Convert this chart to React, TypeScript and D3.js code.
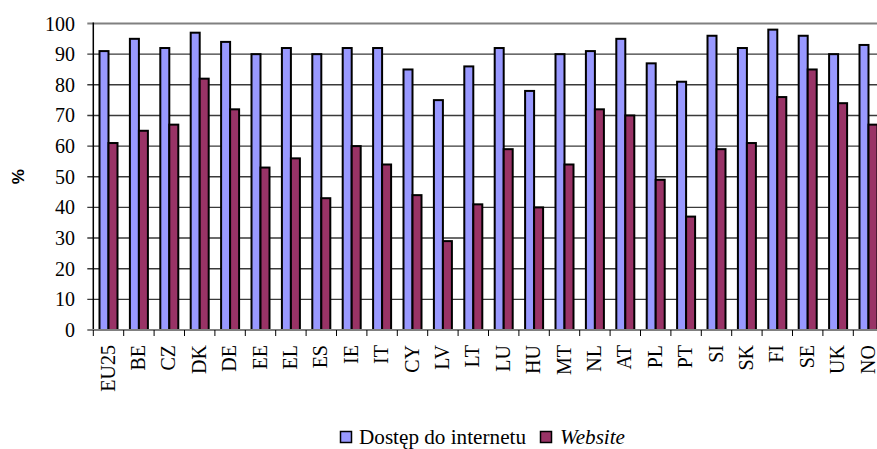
import React from "react";
import * as d3 from "d3";

const categories = ["EU25","BE","CZ","DK","DE","EE","EL","ES","IE","IT","CY","LV","LT","LU","HU","MT","NL","AT","PL","PT","SI","SK","FI","SE","UK","NO"];
const internetAccess = [91,95,92,97,94,90,92,90,92,92,85,75,86,92,78,90,91,95,87,81,96,92,98,96,90,93];
const website = [61,65,67,82,72,53,56,43,60,54,44,29,41,59,40,54,72,70,49,37,59,61,76,85,74,67];
const yTicks = [0,10,20,30,40,50,60,70,80,90,100];
const seriesNames = ["Dostęp do internetu", "Website"];
const seriesColors = ["#9999FF", "#993366"];

const W = 877, H = 449;
const left = 93.3, right = 93.3 + 26 * 30.4;
const top = 23.5, bottom = 330;

export default function App() {
  const x = d3.scaleBand<string>().domain(categories).range([left, right]).paddingInner(0).paddingOuter(0);
  const y = d3.scaleLinear().domain([0, 100]).range([bottom, top]);
  const barW = 9;
  const serif = "Liberation Serif, Times New Roman, serif";
  const series = [internetAccess, website];

  return (
    <svg width={W} height={H} style={{ position: "absolute", left: 0, top: 0, background: "#fff" }}>
      {yTicks.filter(t => t > 0 && t < 100).map(t => (
        <line key={"g" + t} x1={left - 6} x2={W} y1={y(t)} y2={y(t)} stroke="#3a3a3a" strokeWidth={1.4} />
      ))}
      <line x1={left - 6} x2={W} y1={y(100)} y2={y(100)} stroke="#808080" strokeWidth={2} />
      {yTicks.map(t => (
        <text key={"yl" + t} x={75} y={y(t)} dy="0.35em" textAnchor="end" style={{ fontFamily: serif }} fontSize={20} fill="#000">{t}</text>
      ))}
      {categories.map((c, i) => {
        const cx = (x(c) as number) + x.bandwidth() / 2;
        return (
          <g key={c}>
            {series.map((s, k) => (
              <rect key={k} x={cx - barW + k * barW} y={y(s[i])} width={barW} height={y(0) - y(s[i])}
                fill={seriesColors[k]} stroke="#000" strokeWidth={2} />
            ))}
          </g>
        );
      })}
      <line x1={left} x2={left} y1={top - 1} y2={bottom} stroke="#000" strokeWidth={1.5} />
      <line x1={left - 6} x2={W} y1={bottom} y2={bottom} stroke="#808080" strokeWidth={2} />
      {categories.map((c) => (
        <line key={"t" + c} x1={(x(c) as number)} x2={(x(c) as number)} y1={bottom} y2={bottom + 6} stroke="#000" strokeWidth={1} />
      ))}
      {categories.map(c => {
        const cx = (x(c) as number) + x.bandwidth() / 2;
        return (
          <text key={"xl" + c} transform={`translate(${cx - 1},345) rotate(-90)`} dy="0.35em" textAnchor="end"
            style={{ fontFamily: serif }} fontSize={20} fill="#000">{c}</text>
        );
      })}
      <text transform={`translate(18,${(top + bottom) / 2}) rotate(-90)`} dy="0.35em" textAnchor="middle"
        style={{ fontFamily: "Liberation Sans, Arial, sans-serif" }} fontWeight="bold" fontSize={17} fill="#000">%</text>
      <rect x={340.5} y={431.5} width={11} height={11} fill={seriesColors[0]} stroke="#000" strokeWidth={1.5} />
      <text x={359} y={444} style={{ fontFamily: serif }} fontSize={20} fill="#000" textLength={167} lengthAdjust="spacingAndGlyphs">{seriesNames[0]}</text>
      <rect x={540.5} y={431.5} width={11} height={11} fill={seriesColors[1]} stroke="#000" strokeWidth={1.5} />
      <text x={560} y={444} style={{ fontFamily: serif }} fontSize={20} fontStyle="italic" fill="#000" textLength={65} lengthAdjust="spacingAndGlyphs">{seriesNames[1]}</text>
    </svg>
  );
}
